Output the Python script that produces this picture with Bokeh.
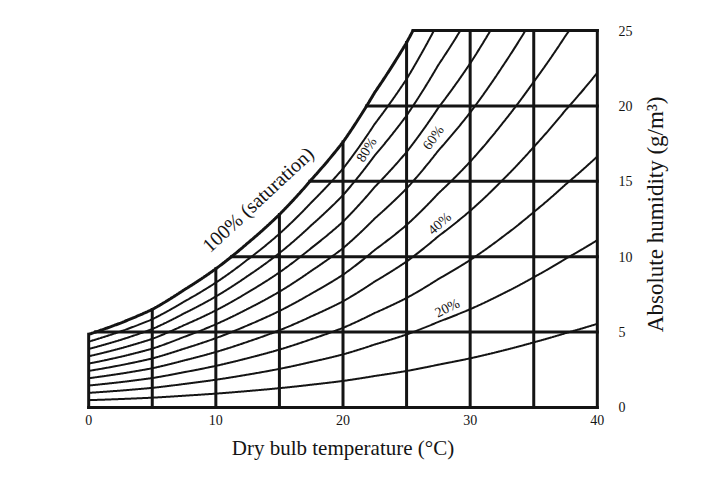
import numpy as np
from bokeh.plotting import figure
from bokeh.layouts import row
from bokeh.models import Range1d, FixedTicker, ColumnDataSource
from bokeh.embed import file_html
from bokeh.resources import INLINE
from bokeh.core.properties import value

# ---- data ----
temps = [0, 2.5, 5, 7.5, 10, 12.5, 15, 17.5, 20, 22.5, 25, 27.5, 30, 32.5, 35, 37.5, 40]
sat_hum = [4.85, 5.6, 6.5, 7.8, 9.2, 10.9, 12.8, 15.1, 17.6, 20.9, 24.2, 28.4, 32.6, 37.6, 43.2, 49.3, 55.5]
rh_levels = [10, 20, 30, 40, 50, 60, 70, 80, 90]
x_ticks = [0, 10, 20, 30, 40]
y_ticks = [0, 5, 10, 15, 20, 25]
grid_temps = [0, 5, 10, 15, 20, 25, 30, 35, 40]
grid_hums = [0, 5, 10, 15, 20, 25]
curve_labels = ["100% (saturation)", "80%", "60%", "40%", "20%"]
label_t = [13.3, 21.85, 27.1, 27.6, 28.2]
label_h = [13.8, 17.1, 17.9, 12.2, 6.6]
label_angle = [43, 58, 55, 42, 26]
label_size = ["20px", "14px", "14px", "14px", "14px"]
x_title = "Dry bulb temperature (°C)"
y_title = "Absolute humidity (g/m³)"

H_MAX = 25.0
T_MAX = 40.0

lt = np.array(temps, float)
ls = np.log(np.array(sat_hum, float))

def sat(t):
    return np.exp(np.interp(t, lt, ls))

def t_at_sat(h):
    return float(np.interp(np.log(h), ls, lt))

fine = np.linspace(0, T_MAX, 801)

def clipped_curve(frac):
    y = frac * sat(fine)
    keep = y <= H_MAX
    xs = list(fine[keep])
    ys = list(y[keep])
    if not keep.all():
        xc = float(np.interp(np.log(H_MAX / frac), ls, lt))
        xs.append(xc)
        ys.append(H_MAX)
    return xs, ys

FONT = "Liberation Serif"
INK = "#141414"

MAIN_W = 641
p = figure(width=MAIN_W, height=494,
           x_range=Range1d(-0.25, 40.25), y_range=Range1d(-0.2, 25.2),
           output_backend="svg", toolbar_location=None,
           y_axis_location="right",
           min_border_left=85, min_border_right=MAIN_W - 600,
           min_border_top=27, min_border_bottom=84)
p.outline_line_color = None
p.xgrid.visible = False
p.ygrid.visible = False
p.background_fill_color = "white"
p.border_fill_color = "white"

# grid lines
vx0, vy0, vx1, vy1 = [], [], [], []
for t in grid_temps:
    top = min(float(sat(t)), H_MAX)
    if t == T_MAX:
        top = H_MAX
    vx0.append(t); vy0.append(0); vx1.append(t); vy1.append(top)
for h in grid_hums:
    start = 0.0 if h <= sat_hum[0] else t_at_sat(h)
    vx0.append(start); vy0.append(h); vx1.append(T_MAX); vy1.append(h)
p.segment(x0=vx0, y0=vy0, x1=vx1, y1=vy1, line_color=INK, line_width=3, line_cap="square")

# relative humidity curves
xs_all, ys_all = [], []
for rh in rh_levels:
    xs, ys = clipped_curve(rh / 100.0)
    xs_all.append(xs); ys_all.append(ys)
p.multi_line(xs=xs_all, ys=ys_all, line_color=INK, line_width=2)

# saturation curve
xs, ys = clipped_curve(1.0)
p.line(xs, ys, line_color=INK, line_width=3)

# curve labels
src = ColumnDataSource(dict(x=label_t, y=label_h, text=curve_labels,
                            angle=[np.deg2rad(a) for a in label_angle],
                            size=label_size))
p.text(x="x", y="y", text="text", angle="angle", source=src,
       text_font=value(FONT), text_font_size="size", text_color=INK,
       text_align="center", text_baseline="middle")

# axes
p.xaxis.ticker = FixedTicker(ticks=x_ticks)
p.yaxis.ticker = FixedTicker(ticks=y_ticks)
for ax in (p.xaxis[0], p.yaxis[0]):
    ax.axis_line_color = None
    ax.major_tick_line_color = None
    ax.minor_tick_line_color = None
    ax.major_tick_out = 0
    ax.major_tick_in = 0
    ax.major_label_text_font = FONT
    ax.major_label_text_font_size = "14px"
    ax.major_label_text_color = INK
    ax.axis_label_text_font = FONT
    ax.axis_label_text_font_size = "21px"
    ax.axis_label_text_font_style = "normal"
    ax.axis_label_text_color = INK
p.xaxis.major_label_standoff = 4
p.yaxis.major_label_standoff = 18
p.xaxis.axis_label = x_title
p.xaxis.axis_label_standoff = 8

# right-hand title, reading bottom to top, in a narrow side figure
SIDE_W = 713 - MAIN_W
q = figure(width=SIDE_W, height=494, x_range=Range1d(0, SIDE_W), y_range=Range1d(0, 494),
           output_backend="svg", toolbar_location=None,
           min_border_left=0, min_border_right=0, min_border_top=0, min_border_bottom=0)
q.axis.visible = False
q.xgrid.visible = False
q.ygrid.visible = False
q.outline_line_color = None
q.background_fill_color = "white"
q.border_fill_color = "white"
q.text(x=[655 - MAIN_W], y=[253], text=[y_title], angle=np.pi / 2,
       text_font=value(FONT), text_font_size="23px", text_color=INK,
       text_align="center", text_baseline="middle")

layout = row(p, q, spacing=0)
open("out.html", "w").write(file_html(layout, INLINE))
